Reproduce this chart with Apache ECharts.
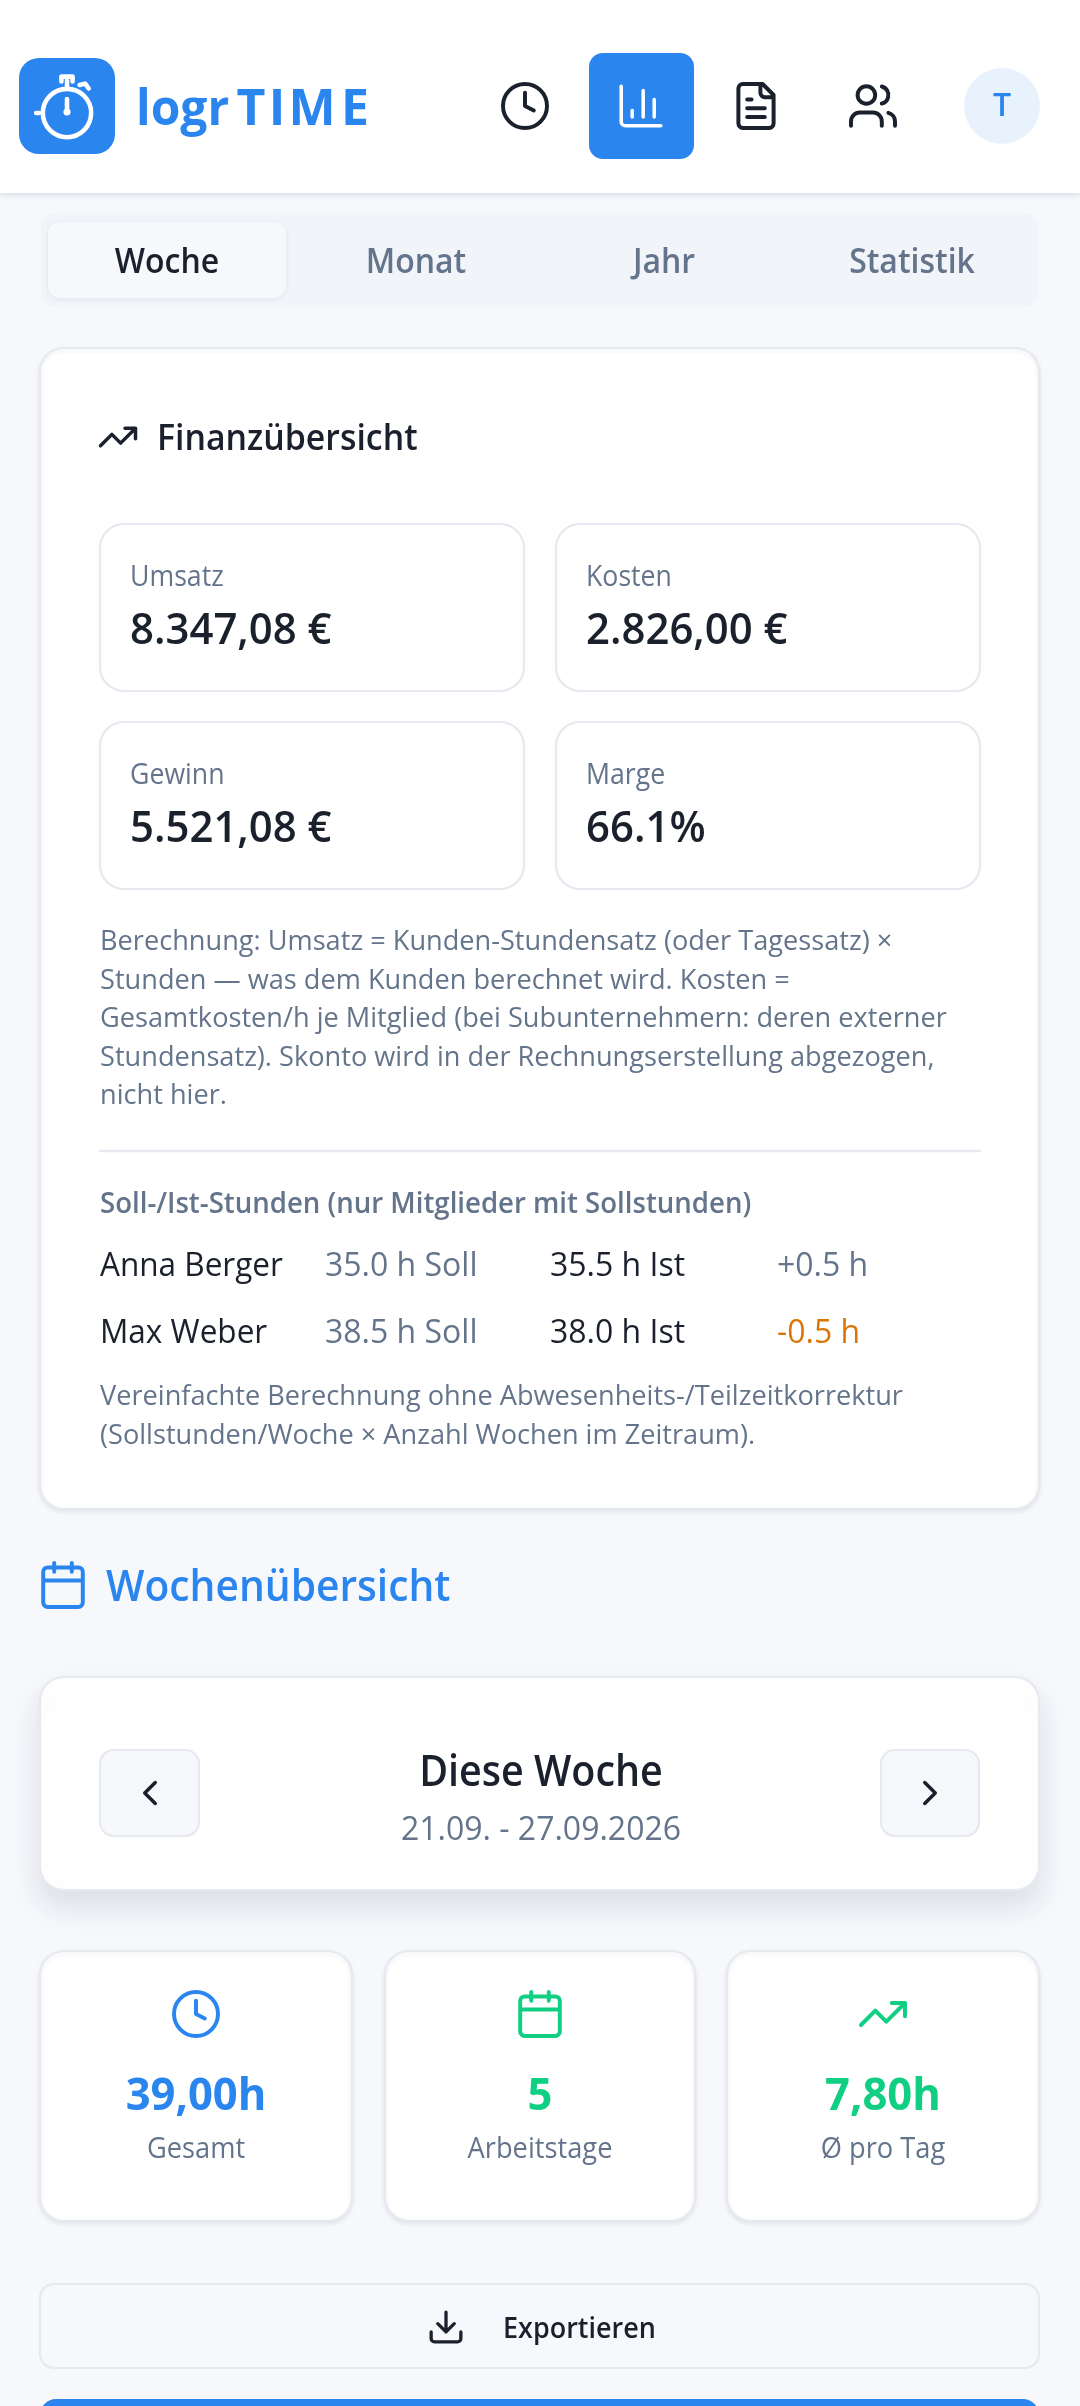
<!DOCTYPE html>
<html>
<head>
<meta charset="utf-8">
<title>logr TIME</title>
<style>
html,body{margin:0;padding:0;background:#f7f8fc;}
#main{width:1080px;height:2406px;}
</style>
<script src="https://cdn.jsdelivr.net/npm/echarts@6/dist/echarts.min.js"></script>
</head>
<body>
<div id="main"></div>
<script>
//---data----------------------------------
var tabs = ['Woche', 'Monat', 'Jahr', 'Statistik'];
var financeLabels = ['Umsatz', 'Kosten', 'Gewinn', 'Marge'];
var financeValues = ['8.347,08 €', '2.826,00 €', '5.521,08 €', '66.1%'];
var calcLines = [
    'Berechnung: Umsatz = Kunden-Stundensatz (oder Tagessatz) ×',
    'Stunden — was dem Kunden berechnet wird. Kosten =',
    'Gesamtkosten/h je Mitglied (bei Subunternehmern: deren externer',
    'Stundensatz). Skonto wird in der Rechnungserstellung abgezogen,',
    'nicht hier.'
];
var memberNames = ['Anna Berger', 'Max Weber'];
var sollHours = ['35.0 h Soll', '38.5 h Soll'];
var istHours = ['35.5 h Ist', '38.0 h Ist'];
var diffHours = ['+0.5 h', '-0.5 h'];
var noteLines = [
    'Vereinfachte Berechnung ohne Abwesenheits-/Teilzeitkorrektur',
    '(Sollstunden/Woche × Anzahl Wochen im Zeitraum).'
];
var statValues = ['39,00h', '5', '7,80h'];
var statLabels = ['Gesamt', 'Arbeitstage', 'Ø pro Tag'];

//---colors and icons----------------------
var BLUE = '#2b85ee', GREEN = '#10cf82', DARK = '#1a202c', GREY = '#64748b', LINE = '#e7e9f0', BG = '#f7f8fc';
var FONT = '"Open Sans", sans-serif';
var ICON = {
    clock: 'M12 2a10 10 0 1 0 0 20a10 10 0 1 0 0-20z M12 6v6l4 2',
    chart: 'M3 3v16a2 2 0 0 0 2 2h16 M18 17V9 M13 17V5 M8 17v-3',
    file: 'M15 2H6a2 2 0 0 0-2 2v16a2 2 0 0 0 2 2h12a2 2 0 0 0 2-2V7Z M14 2v4a2 2 0 0 0 2 2h4 M10 9H8 M16 13H8 M16 17H8',
    users: 'M16 21v-2a4 4 0 0 0-4-4H6a4 4 0 0 0-4 4v2 M9 3a4 4 0 1 0 0 8a4 4 0 0 0 0-8z M22 21v-2a4 4 0 0 0-3-3.87 M16 3.13a4 4 0 0 1 0 7.75',
    trend: 'M22 7L13.5 15.5L8.5 10.5L2 17 M16 7h6v6',
    calendar: 'M8 2v4 M16 2v4 M5 4h14a2 2 0 0 1 2 2v14a2 2 0 0 1-2 2H5a2 2 0 0 1-2-2V6a2 2 0 0 1 2-2z M3 10h18',
    left: 'M15 18L9 12L15 6',
    right: 'M9 18L15 12L9 6',
    download: 'M21 15v4a2 2 0 0 1-2 2H5a2 2 0 0 1-2-2v-4 M7 10l5 5l5-5 M12 15V3',
    watch: 'M12 7.1a6.9 6.9 0 1 0 0 13.8a6.9 6.9 0 1 0 0-13.8z M12 7V4.6 M10.4 5V3.6h3.2V5 M15.6 6l1.6-0.4l1 1.4 M3.2 14h0.8 M12 10v4'
};
for (var iconName in ICON) {
    echarts.graphic.registerShape('icon-' + iconName, echarts.graphic.extendPath(ICON[iconName]));
}

//---helpers-------------------------------
var els = [];

function box(x, y, w, h, r, fill, stroke, shadow) {
    var style = { fill: fill, stroke: stroke || null, lineWidth: stroke ? 2.2 : 0 };
    if (shadow) {
        style.shadowBlur = shadow[0];
        style.shadowOffsetY = shadow[1];
        style.shadowColor = shadow[2];
    }
    els.push({ type: 'rect', shape: { x: x, y: y, width: w, height: h, r: r }, style: style });
}

// sx squeezes the text horizontally, the reference font runs narrower than the installed ones
function label(x, y, str, size, weight, color, align, sx) {
    els.push({
        type: 'text', x: x, y: y, scaleX: sx || 1,
        style: {
            text: str, fontFamily: FONT, fontSize: size, fontWeight: weight, fill: color,
            align: align || 'left', verticalAlign: 'middle'
        }
    });
}

function icon(name, cx, cy, s, color, lw) {
    els.push({
        type: 'icon-' + name, x: cx - 12 * s, y: cy - 12 * s, scaleX: s, scaleY: s,
        style: { fill: null, stroke: color, lineWidth: lw || 2, lineCap: 'round', lineJoin: 'round' }
    });
}

//---header--------------------------------
function drawHeader() {
    box(0, 0, 1080, 193, 0, '#fff', null, [6, 2, 'rgba(30,40,70,0.14)']);
    box(19, 58, 96, 96, 20, BLUE);
    icon('watch', 67, 106, 3.5, '#fff', 1.3);
    els.push({ type: 'circle', shape: { cx: 67, cy: 112, r: 3.6 }, style: { fill: '#fff' } });
    label(136, 111, 'logr', 50, 700, BLUE, 'left', 0.96);
    var timeLetters = ['T', 'I', 'M', 'E'];
    var timeX = [251, 277, 312, 355];
    for (var i = 0; i < 4; i++) {
        label(timeX[i], 111, timeLetters[i], 50, 700, BLUE, 'center', 1);
    }
    icon('clock', 525, 106, 2.2, DARK, 1.8);
    box(589, 53, 105, 106, 14, BLUE);
    icon('chart', 641, 106, 2.2, '#fff', 1.6);
    icon('file', 756, 106, 2.2, DARK, 1.8);
    icon('users', 873, 106, 2.2, DARK, 1.8);
    els.push({ type: 'circle', shape: { cx: 1002, cy: 106, r: 38 }, style: { fill: '#e8f2fd' } });
    label(1002, 107, 'T', 32, 600, BLUE, 'center');
}

//---tabs----------------------------------
function drawTabs() {
    box(41, 213, 997, 94, 14, '#f1f4f9');
    box(48, 222, 238, 76, 12, BG, null, [5, 1, 'rgba(30,40,70,0.08)']);
    var tabX = [167, 416, 664, 912];
    for (var i = 0; i < tabs.length; i++) {
        label(tabX[i], 263, tabs[i], 34, 600, i === 0 ? DARK : GREY, 'center', 0.94);
    }
}

//---finance card--------------------------
function drawFinance() {
    box(40, 348, 999, 1161, 24, '#fff', LINE, [4, 2, 'rgba(30,40,70,0.08)']);
    icon('trend', 118, 437, 1.75, DARK, 2);
    label(157, 440, 'Finanzübersicht', 36, 600, DARK, 'left', 0.94);
    var colX = [100, 556], rowY = [524, 722], i;
    for (i = 0; i < 4; i++) {
        var x = colX[i % 2], y = rowY[i >> 1];
        box(x, y, 424, 167, 24, '#fff', LINE);
        label(x + 30, y + 54, financeLabels[i], 29, 400, GREY, 'left', 0.92);
        label(x + 30, y + 108, financeValues[i], 43, 600, DARK, 'left', 0.975);
    }
    var calcY = [942, 981, 1019, 1058, 1096];
    for (i = 0; i < calcLines.length; i++) {
        label(100, calcY[i], calcLines[i], 28, 400, GREY, 'left', 0.97);
    }
    els.push({ type: 'line', shape: { x1: 99, y1: 1151, x2: 981, y2: 1151 }, style: { stroke: LINE, lineWidth: 2.5 } });
    label(100, 1205, 'Soll-/Ist-Stunden (nur Mitglieder mit Sollstunden)', 28, 600, GREY, 'left', 0.985);
    var memberY = [1267, 1334];
    for (i = 0; i < memberNames.length; i++) {
        label(100, memberY[i], memberNames[i], 32, 400, DARK, 'left', 0.985);
        label(325, memberY[i], sollHours[i], 32, 400, GREY);
        label(550, memberY[i], istHours[i], 32, 400, DARK);
        label(777, memberY[i], diffHours[i], 32, 400, diffHours[i].charAt(0) === '-' ? '#d97706' : GREY);
    }
    var noteY = [1397, 1436];
    for (i = 0; i < noteLines.length; i++) {
        label(100, noteY[i], noteLines[i], 28, 400, GREY, 'left', 0.97);
    }
}

//---week section--------------------------
function drawWeek() {
    icon('calendar', 63, 1585, 2.2, BLUE, 1.8);
    label(106, 1589, 'Wochenübersicht', 43, 600, BLUE, 'left', 0.947);

    box(40, 1677, 999, 213, 24, '#fff', LINE, [30, 16, 'rgba(30,40,70,0.12)']);
    box(100, 1750, 99, 86, 14, BG, LINE);
    box(881, 1750, 98, 86, 14, BG, LINE);
    icon('left', 150, 1793, 1.75, DARK, 2);
    icon('right', 930, 1793, 1.75, DARK, 2);
    label(541, 1774, 'Diese Woche', 43, 600, DARK, 'center', 0.918);
    label(541, 1831, '21.09. - 27.09.2026', 32, 400, GREY, 'center');

    var statX = [40, 385, 727], statW = [312, 310, 312];
    var statIcon = ['clock', 'calendar', 'trend'];
    var statColor = [BLUE, GREEN, GREEN];
    for (var i = 0; i < 3; i++) {
        var cx = statX[i] + statW[i] / 2;
        box(statX[i], 1951, statW[i], 270, 24, '#fff', LINE, [4, 2, 'rgba(30,40,70,0.08)']);
        icon(statIcon[i], cx, 2014, 2.2, statColor[i], 1.8);
        label(cx, 2097, statValues[i], 44, 700, statColor[i], 'center', 0.99);
        label(cx, 2150, statLabels[i], 29, 400, GREY, 'center', 0.94);
    }

    box(40, 2284, 999, 84, 14, BG, LINE);
    icon('download', 446, 2327, 1.65, DARK, 2);
    label(503, 2330, 'Exportieren', 29, 600, DARK, 'left', 0.93);
    box(40, 2399, 999, 40, 16, BLUE);
}

//---init----------------------------------
function init() {
    drawHeader();
    drawTabs();
    drawFinance();
    drawWeek();
    var chart = echarts.init(document.getElementById('main'), null, { renderer: 'canvas' });
    chart.setOption({
        backgroundColor: BG,
        animation: false,
        graphic: { elements: els }
    });
}

init();
</script>
</body>
</html>
